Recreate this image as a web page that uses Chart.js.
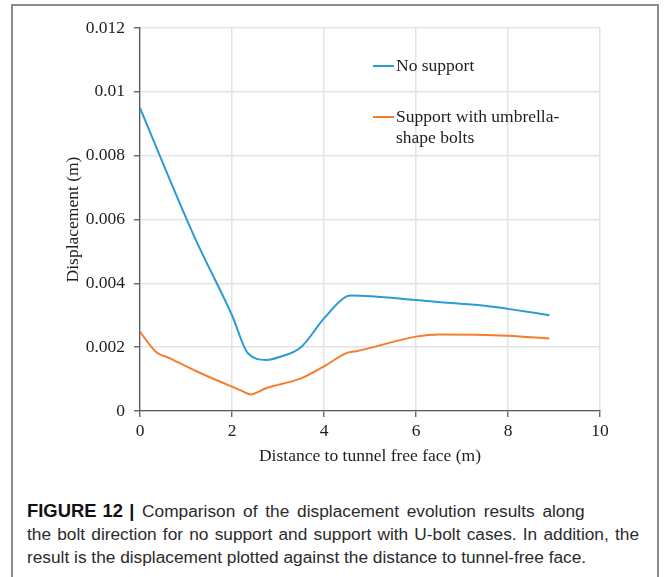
<!DOCTYPE html>
<html>
<head>
<meta charset="utf-8">
<script src="https://cdn.jsdelivr.net/npm/chart.js@4/dist/chart.umd.min.js"></script>
<style>
  body { margin: 0; width: 664px; height: 577px; overflow: hidden; background: #fff; position: relative; }
  .frame { position: absolute; left: 11px; top: 4px; width: 648px; height: 620px; border: 2px solid #8c8c8c; box-sizing: border-box; }
  #dispChart { position: absolute; left: 0; top: 0; }
  .caption { position: absolute; left: 27px; top: 499px; font-family: "Liberation Sans", Arial, sans-serif; font-size: 17.3px; line-height: 23px; color: #2b2b2b; }
  .caption div { white-space: nowrap; }
  .caption .first { word-spacing: 3px; }
  .caption .just { width: 612px; text-align: justify; text-align-last: justify; }
  .caption b { color: #111; font-size: 18.4px; word-spacing: 1px; }
</style>
</head>
<body>
<div class="frame"></div>
<canvas id="dispChart" width="664" height="480"></canvas>
<div class="caption">
  <div class="first"><b>FIGURE 12 |</b> Comparison of the displacement evolution results along</div>
  <div class="just">the bolt direction for no support and support with U-bolt cases. In addition, the</div>
  <div>result is the displacement plotted against the distance to tunnel-free face.</div>
</div>
<script>
// distance to free face (m) and displacement (m) for each case
const noSupportX = [0, 0.4, 1.2, 2.0, 2.35, 2.75, 3.05, 3.5, 4.0, 4.5, 4.6, 6.0, 6.6, 7.5, 8.0, 8.9];
const noSupportY = [0.0095, 0.0081, 0.0054, 0.0030, 0.0018, 0.0016, 0.0017, 0.0020, 0.0029, 0.0036, 0.00362, 0.00348, 0.0034, 0.0033, 0.0032, 0.0030];

const boltsX = [0, 0.35, 0.65, 1.25, 2.2, 2.4, 2.75, 3.5, 4.0, 4.5, 4.7, 6.0, 6.5, 8.0, 8.9];
const boltsY = [0.00248, 0.00185, 0.00165, 0.00123, 0.00064, 0.00052, 0.00072, 0.00102, 0.0014, 0.00182, 0.00187, 0.00233, 0.0024, 0.00236, 0.00227];

const seriesNames = ['No support', 'Support with umbrella-shape bolts'];
const legendLines = [['No support'], ['Support with umbrella-', 'shape bolts']];

const xTickLabels = ['0', '2', '4', '6', '8', '10'];
const yTickLabels = ['0', '0.002', '0.004', '0.006', '0.008', '0.01', '0.012'];

const blue = '#2b9bd6';
const orange = '#f57d2c';
const serif = '"Liberation Serif", "Times New Roman", serif';
const textColor = '#1e1e1e';

function toPoints(xs, ys) {
    return xs.map((x, i) => ({ x: x, y: ys[i] }));
}

// legend drawn inside the plot, labels wrapped on two lines
const insideLegend = {
    id: 'insideLegend',
    afterDatasetsDraw(chart) {
        const ctx = chart.ctx;
        const rows = [66, 117];
        ctx.save();
        ctx.font = '17.5px ' + serif;
        ctx.fillStyle = textColor;
        ctx.textBaseline = 'middle';
        ctx.textAlign = 'left';
        chart.data.datasets.forEach((ds, i) => {
            const y = rows[i];
            ctx.strokeStyle = ds.borderColor;
            ctx.lineWidth = 2;
            ctx.beginPath();
            ctx.moveTo(373, y);
            ctx.lineTo(394, y);
            ctx.stroke();
            legendLines[i].forEach((txt, k) => {
                ctx.fillText(txt, 396, y + k * 21);
            });
        });
        ctx.restore();
    }
};

const ctx = document.getElementById('dispChart').getContext('2d');
new Chart(ctx, {
    type: 'line',
    data: {
        datasets: [{
            label: seriesNames[0],
            data: toPoints(noSupportX, noSupportY),
            borderColor: blue,
            borderWidth: 2,
            pointRadius: 0,
            cubicInterpolationMode: 'monotone',
            fill: false
        }, {
            label: seriesNames[1],
            data: toPoints(boltsX, boltsY),
            borderColor: orange,
            borderWidth: 2,
            pointRadius: 0,
            cubicInterpolationMode: 'monotone',
            fill: false
        }]
    },
    options: {
        responsive: false,
        animation: false,
        devicePixelRatio: 1,
        layout: { padding: { top: 28, right: 64, bottom: 0, left: 0 } },
        plugins: {
            legend: { display: false },
            tooltip: { enabled: false }
        },
        scales: {
            x: {
                type: 'linear',
                min: 0,
                max: 10,
                afterFit: function (scale) { scale.height = 69; },
                ticks: {
                    stepSize: 2,
                    padding: 4,
                    color: textColor,
                    font: { family: serif, size: 17.5 },
                    callback: function (value, index) { return xTickLabels[index]; }
                },
                grid: { color: '#e3e3e3', lineWidth: 1.5, tickLength: 6, tickColor: '#5a5a5a', tickWidth: 1.3 },
                border: { color: '#5a5a5a', width: 1.3 },
                title: {
                    display: true,
                    text: 'Distance to tunnel free face (m)',
                    color: textColor,
                    font: { family: serif, size: 17.5 },
                    padding: { top: 0, bottom: 13 }
                }
            },
            y: {
                type: 'linear',
                min: 0,
                max: 0.012,
                afterFit: function (scale) { scale.width = 140; },
                ticks: {
                    stepSize: 0.002,
                    padding: 9,
                    color: textColor,
                    font: { family: serif, size: 17.5 },
                    callback: function (value, index) { return yTickLabels[index]; }
                },
                grid: { color: '#e3e3e3', lineWidth: 1.5, tickLength: 6, tickColor: '#5a5a5a', tickWidth: 1.3 },
                border: { color: '#5a5a5a', width: 1.3 },
                title: {
                    display: true,
                    text: 'Displacement (m)',
                    color: textColor,
                    font: { family: serif, size: 17.5 },
                    padding: { top: 63, bottom: 0 }
                }
            }
        }
    },
    plugins: [insideLegend]
});
</script>
</body>
</html>
